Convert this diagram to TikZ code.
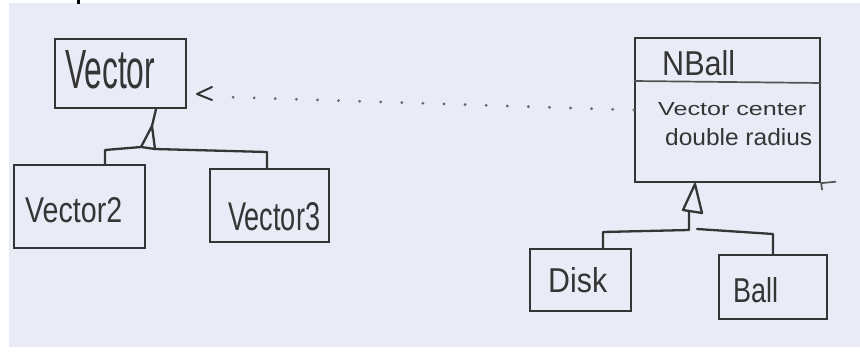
\documentclass[tikz,border=0pt]{standalone}
\usepackage{fontspec}
\setmainfont{Liberation Sans}
\usepackage{graphicx}
\definecolor{paper}{HTML}{E9ECF7}
\definecolor{ink}{HTML}{353535}
\newcommand{\hw}[3]{\resizebox{#1pt}{#2pt}{\fontsize{20}{20}\selectfont #3}}
\tikzset{
  box/.style={draw=ink, line width=2.3pt, rectangle, inner sep=0pt},
  txt/.style={inner sep=0pt, text=ink, anchor=base west},
  conn/.style={draw=ink, line width=2.3pt, line cap=round, line join=round},
  thin/.style={draw=ink!85, line width=1.7pt},
  dotline/.style={draw=ink!75, line width=3pt, line cap=round, dash pattern=on 0.1pt off 21pt},
}
\begin{document}
\begin{tikzpicture}[x=1pt, y=-1pt]
\useasboundingbox (0,0) rectangle (860,356);
\fill[white] (0,0) rectangle (860,356);
\fill[paper] (9,3) rectangle (860,347);
\fill[black] (77,0) rectangle (79.5,4);

% boxes
\node[box, minimum width=131pt, minimum height=69pt] (vec) at (120.5,73.5) {};
\node[box, minimum width=131pt, minimum height=83pt] (v2) at (79.5,206.5) {};
\node[box, minimum width=119pt, minimum height=73pt] (v3) at (269.5,205.5) {};
\node[box, minimum width=185pt, minimum height=144pt] (nb) at (727.5,110) {};
\node[box, minimum width=101pt, minimum height=62pt] (disk) at (580.5,280) {};
\node[box, minimum width=108pt, minimum height=64pt] (ball) at (773,287) {};

% NBall compartments
\draw[thin] (nb.west |- 0,81) -- (nb.east |- 0,83);
\draw[thin] (nb.south east) -- ++(15,-1.5);
\draw[thin] (nb.south east) -- ++(1,7);

% texts
\node[txt] (vecT) at (65,88) {\hw{90}{38}{Vector}};
\node[txt] (v2T) at (25,222) {\hw{97}{25}{Vector2}};
\node[txt] (v3T) at (228,230) {\hw{92}{28}{Vector3}};
\node[txt] (nbT) at (662,75) {\hw{73}{25}{NBall}};
\node[txt] (nbA) at (658,115) {\hw{148}{13}{Vector center}};
\node[txt] (nbB) at (665,145) {\hw{147}{17}{double radius}};
\node[txt] (diskT) at (548,292) {\hw{59}{25}{Disk}};
\node[txt] (ballT) at (733,302) {\hw{45}{25}{Ball}};

% dependency: NBall uses Vector
\coordinate (ah) at (197,94);
\coordinate (dl) at (225,97);
\draw[dotline] (nb.west) -- (dl);
\draw[conn, line width=2pt] (212,87) -- (ah) -- (212,100);

% generalization: Vector2, Vector3 -> Vector
\coordinate (lt) at (152,126);
\coordinate (lbl) at (141,147);
\coordinate (lbr) at (155,149);
\draw[conn] (vec.south -| 156,0) -- (lt);
\draw[conn] (lt) -- (lbl) -- (lbr) -- cycle;
\draw[conn] (lbl) -- (105,150) -- (v2.north -| 105,0);
\draw[conn] (lbr) -- (267,152) -- (v3.north -| 267,0);

% generalization: Disk, Ball -> NBall
\coordinate (rt) at (695,184);
\coordinate (rbl) at (683,210);
\coordinate (rbr) at (702,213);
\coordinate (rs) at (689,212);
\draw[conn] (rt) -- (rbl) -- (rbr) -- cycle;
\draw[conn] (rs) -- (689,230) -- (603,232) -- (disk.north -| 603,0);
\draw[conn] (697,229) -- (773,234) -- (ball.north -| 773,0);
\end{tikzpicture}
\end{document}
